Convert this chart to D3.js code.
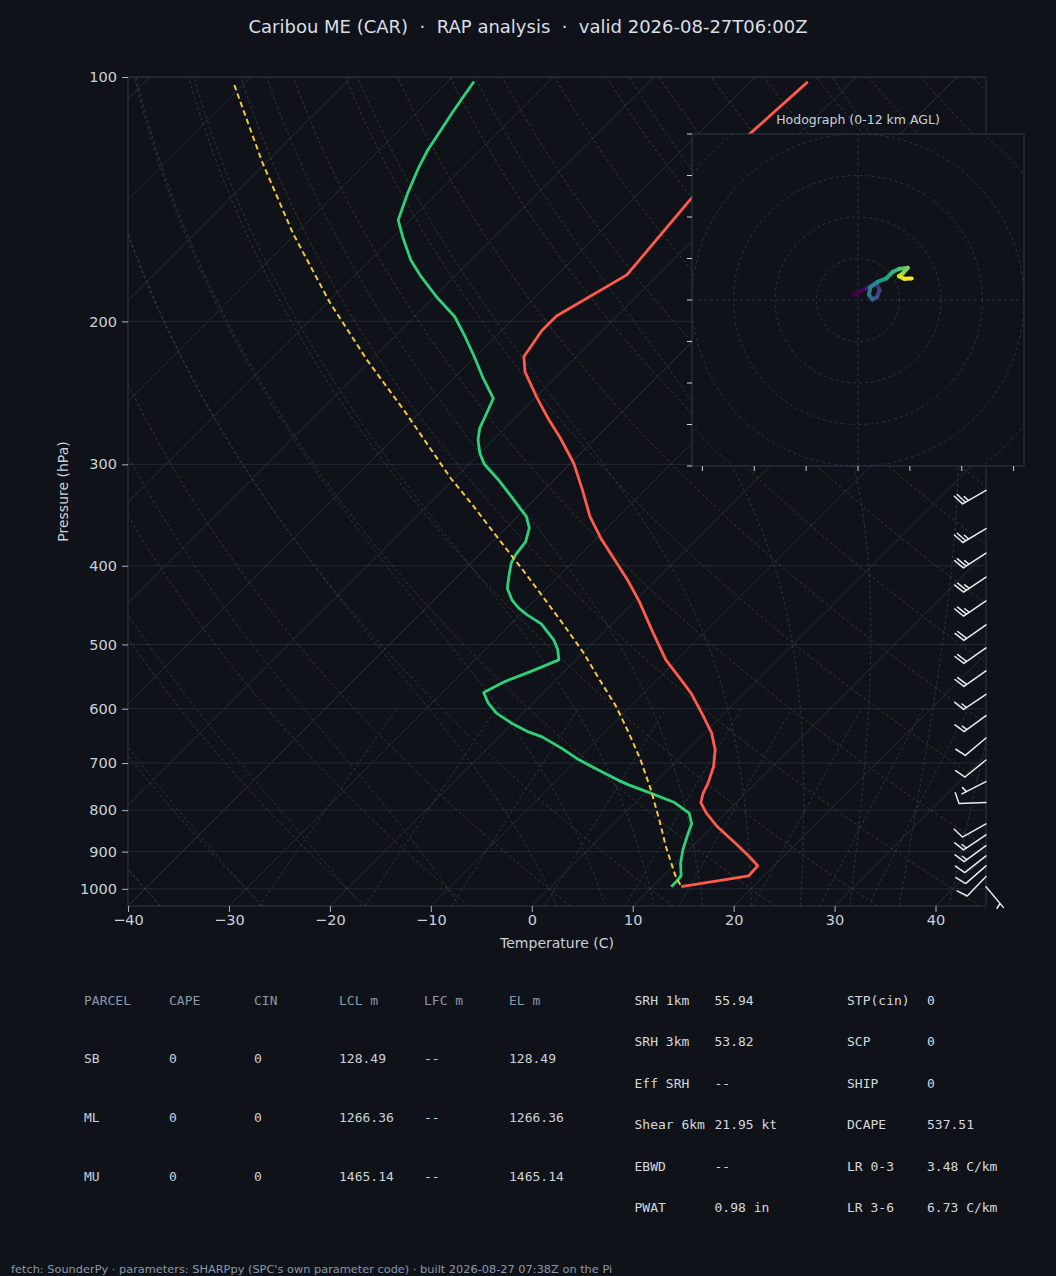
<!DOCTYPE html>
<html>
<head>
<meta charset="utf-8">
<script src="https://cdn.jsdelivr.net/npm/d3@7"></script>
<style>
  html, body { margin: 0; padding: 0; background: #0f1319; }
  svg { display: block; }
  text { font-family: "DejaVu Sans", sans-serif; }
  .mono text { font-family: "DejaVu Sans Mono", monospace; }
</style>
</head>
<body>
<svg id="chart" width="1056" height="1276"></svg>
<script>
// ---- sounding values (hPa, degC) ----
var tempP = [101.4, 117.5, 141.1, 175.3, 197.0, 205.4, 221.1, 230.7, 247.6, 263.3, 278.6, 299.1, 322.6, 348.0,
             369.9, 395.3, 416.5, 442.8, 484.2, 522.4, 550.3, 574.2, 610.6, 643.1, 674.3, 707.0, 741.1, 762.4,
             783.0, 806.9, 838.1, 874.5, 908.1, 936.9, 963.7, 994];
var tempC = [-54.3, -54.9, -54.3, -53.1, -56.0, -56.0, -55.2, -53.6, -50.0, -46.7, -43.5, -39.7, -36.2, -32.8,
             -29.6, -25.8, -22.8, -19.5, -15.0, -11.1, -7.9, -5.3, -2.0, 0.7, 2.7, 4.2, 5.3, 5.8,
             6.5, 8.1, 10.5, 13.6, 16.3, 18.4, 18.5, 12.9];

var dewP = [101.3, 110.3, 117.9, 123.0, 129.0, 139.1, 150.0, 157.3, 168.0, 176.2, 186.5, 197.4, 208.9, 221.1,
            235.0, 248.8, 262.1, 270.7, 279.9, 290.7, 299.7, 313.6, 331.9, 348.0, 359.3, 373.5, 387.8, 397.1,
            412.5, 426.4, 440.6, 451.1, 459.8, 471.7, 493.5, 507.7, 522.4, 541.6, 555.6, 573.2, 590.7, 607.7,
            625.2, 640.2, 649.4, 671.0, 693.7, 710.2, 734.2, 744.7, 762.4, 783.0, 806.9, 831.7, 862.2, 895.3,
            929.8, 963.7, 979.5, 994];
var dewC = [-87.4, -86.5, -85.7, -85.2, -84.4, -82.9, -81.2, -79.1, -76.0, -73.3, -69.8, -66.0, -63.0, -60.1,
            -57.1, -54.1, -53.1, -52.5, -51.5, -50.0, -48.5, -45.5, -42.0, -39.1, -37.7, -36.7, -36.4, -36.0,
            -34.9, -33.9, -32.3, -30.8, -29.3, -27.0, -24.2, -22.8, -21.7, -23.5, -24.9, -25.9, -24.4, -22.6,
            -20.1, -17.7, -15.8, -12.7, -9.8, -7.4, -4.0, -2.4, 0.6, 3.9, 6.4, 7.7, 8.5, 9.4,
            10.5, 11.8, 11.9, 11.9];

var parcelP = [102.3, 127.3, 155.8, 189.2, 223.2, 257.2, 312.1, 335.0, 375.2, 410.6, 440.6, 475.3, 512.5,
               555.6, 596.3, 643.1, 693.7, 755.3, 822.4, 887.1, 961.0, 994];
var parcelC = [-110.8, -100.4, -90.3, -79.9, -70.4, -61.8, -50.4, -45.9, -38.9, -33.3, -29.0, -24.4, -19.9,
               -15.4, -11.4, -7.5, -3.7, 0.3, 4.1, 7.4, 11.1, 12.9];

// wind barbs: pressure, direction (deg from), speed (kt)
var barbP = [323, 360, 386, 413, 442, 473, 505, 539, 576, 612, 652, 694, 738, 783, 832, 858, 885, 911, 937, 966, 994];
var barbDir = [240, 239, 237, 236, 236, 235, 235, 235, 236, 234, 230, 231, 243, 268, 241, 236, 234, 232, 229, 224, 140];
var barbKt = [25, 25, 25, 25, 25, 20, 20, 20, 15, 15, 10, 10, 5, 10, 10, 15, 15, 10, 10, 10, 5];

// hodograph (kt), surface to 12 km
var hodoU = [-2.1, 4.0, 8.8, 10.4, 9.1, 6.9, 5.3, 5.9, 9.6, 13.6, 16.8, 19.9, 24.0, 21.6, 19.7, 22.4, 25.9];
var hodoV = [2.4, 5.6, 8.3, 4.8, 1.3, 0.3, 2.4, 6.1, 8.8, 10.4, 13.6, 15.0, 15.5, 12.8, 11.5, 10.2, 10.4];

var pressureTicks = [100, 200, 300, 400, 500, 600, 700, 800, 900, 1000];
var tempTicks = [-40, -30, -20, -10, 0, 10, 20, 30, 40];
var hodoXTicks = [-75, -50, -25, 0, 25, 50, 75];
var hodoYTicks = [-80, -60, -40, -20, 0, 20, 40, 60, 80];
var hodoRings = [20, 40, 60, 80, 100];

// parameter tables
var parcelHead = ["PARCEL", "CAPE", "CIN", "LCL m", "LFC m", "EL m"];
var parcelNames = ["SB", "ML", "MU"];
var parcelCape = ["0", "0", "0"];
var parcelCin = ["0", "0", "0"];
var parcelLcl = ["128.49", "1266.36", "1465.14"];
var parcelLfc = ["--", "--", "--"];
var parcelEl = ["128.49", "1266.36", "1465.14"];
var kinLabels = ["SRH 1km", "SRH 3km", "Eff SRH", "Shear 6km", "EBWD", "PWAT"];
var kinValues = ["55.94", "53.82", "--", "21.95 kt", "--", "0.98 in"];
var idxLabels = ["STP(cin)", "SCP", "SHIP", "DCAPE", "LR 0-3", "LR 3-6"];
var idxValues = ["0", "0", "0", "537.51", "3.48 C/km", "6.73 C/km"];

var bg = "#0f1319", frameCol = "#2e3947", textCol = "#c9d1d9", mutedCol = "#8b98aa";

var svg = d3.select("#chart");
svg.append("rect").attr("width", 1056).attr("height", 1276).attr("fill", bg);

var margin = {top: 77, left: 128},
    width = 858,
    height = 829;

var x = d3.scaleLinear().domain([-40, 45]).range([0, width]);
var y = d3.scaleLog().domain([1050, 100]).range([height, 0]);
// 45 degree skew, anchored on the bottom of the plot
function skewX(t, p) { return x(t) + (height - y(p)); }

var line = d3.line()
    .x(function(d) { return skewX(d[0], d[1]); })
    .y(function(d) { return y(d[1]); });

var g = svg.append("g")
    .attr("transform", "translate(" + margin.left + "," + margin.top + ")");

g.append("clipPath").attr("id", "plotclip")
  .append("rect").attr("width", width).attr("height", height);
var plot = g.append("g").attr("clip-path", "url(#plotclip)");

// pressure grid
plot.selectAll(".pgrid")
    .data(pressureTicks)
    .enter().append("line")
    .attr("x1", 0).attr("x2", width)
    .attr("y1", function(d) { return y(d); })
    .attr("y2", function(d) { return y(d); })
    .attr("stroke", "#252d38").attr("stroke-width", 0.9);

// isotherms
plot.selectAll(".iso")
    .data(d3.range(-160, 50, 10))
    .enter().append("path")
    .attr("d", function(t) { return line([[t, 1050], [t, 100]]); })
    .attr("stroke", "#29313c").attr("stroke-width", 0.9).attr("fill", "none");

var pLevels = d3.range(1050, 99, -5);

// dry adiabats
var RD = 287.04749, CPD = 1004.666, LV = 2.50084e6, EPS = 0.621957, KAPPA = RD / CPD;
plot.selectAll(".dry")
    .data(d3.range(-40, 251, 10))
    .enter().append("path")
    .attr("d", function(th) {
        return line(pLevels.map(function(p) {
            return [(th + 273.15) * Math.pow(p / 1000, KAPPA) - 273.15, p];
        }));
    })
    .attr("stroke", "#4a3f2d").attr("stroke-width", 0.8)
    .attr("stroke-dasharray", "3,2.5").attr("fill", "none");

// moist adiabats (RK4 from the 1000 hPa temperature)
function dTdp(p, T) {
    var es = 6.112 * Math.exp(17.67 * (T - 273.15) / (T - 29.65));
    var rs = EPS * es / (p - es);
    return (RD * T + LV * rs) / (p * (CPD + (LV * LV * rs * EPS) / (RD * T * T)));
}
function moistLine(t0) {
    function run(pEnd, h) {
        var T = t0 + 273.15, p = 1000, out = [];
        while ((h < 0 && p > pEnd) || (h > 0 && p < pEnd)) {
            var k1 = dTdp(p, T),
                k2 = dTdp(p + h / 2, T + h / 2 * k1),
                k3 = dTdp(p + h / 2, T + h / 2 * k2),
                k4 = dTdp(p + h, T + h * k3);
            T += h / 6 * (k1 + 2 * k2 + 2 * k3 + k4);
            p += h;
            out.push([T - 273.15, p]);
        }
        return out;
    }
    return run(1050, 5).reverse().concat([[t0, 1000]], run(100, -5));
}
plot.selectAll(".moist")
    .data(d3.range(-40, 0, 10).concat(d3.range(0, 46, 5)))
    .enter().append("path")
    .attr("d", function(t0) { return line(moistLine(t0)); })
    .attr("stroke", "#30404a").attr("stroke-width", 0.8)
    .attr("stroke-dasharray", "3,2.5").attr("fill", "none");

// mixing ratio lines
plot.selectAll(".mix")
    .data([0.0004, 0.001, 0.002, 0.004, 0.007, 0.01, 0.016, 0.024, 0.032])
    .enter().append("path")
    .attr("d", function(w) {
        return line(d3.range(1050, 599, -10).map(function(p) {
            var e = p * w / (EPS + w), l = Math.log(e / 6.112);
            return [243.5 * l / (17.67 - l), p];
        }));
    })
    .attr("stroke", "#2a404c").attr("stroke-width", 0.8)
    .attr("stroke-dasharray", "3,2.5").attr("fill", "none");

// profiles
plot.append("path")
    .datum(tempP.map(function(p, i) { return [tempC[i], p]; }))
    .attr("d", line)
    .attr("fill", "none").attr("stroke", "#ff5a4b")
    .attr("stroke-width", 2.8).attr("stroke-linejoin", "round");

plot.append("path")
    .datum(dewP.map(function(p, i) { return [dewC[i], p]; }))
    .attr("d", line)
    .attr("fill", "none").attr("stroke", "#2fd07a")
    .attr("stroke-width", 2.8).attr("stroke-linejoin", "round");

plot.append("path")
    .datum(parcelP.map(function(p, i) { return [parcelC[i], p]; }))
    .attr("d", line)
    .attr("fill", "none").attr("stroke", "#f5c542")
    .attr("stroke-width", 2).attr("stroke-dasharray", "5.5,3.5");

// frame
g.append("rect").attr("width", width).attr("height", height)
    .attr("fill", "none").attr("stroke", frameCol).attr("stroke-width", 1);

// axes
var yAxis = g.append("g")
    .call(d3.axisLeft(y).tickValues(pressureTicks).tickFormat(d3.format("d")).tickSize(6).tickPadding(5));
var xAxis = g.append("g")
    .attr("transform", "translate(0," + height + ")")
    .call(d3.axisBottom(x).tickValues(tempTicks)
        .tickFormat(function(d) { return d < 0 ? "\u2212" + Math.abs(d) : d; })
        .tickSize(6).tickPadding(3));
[xAxis, yAxis].forEach(function(a) {
    a.select(".domain").remove();
    a.selectAll(".tick line").attr("stroke", "#aab3bf");
    a.selectAll(".tick text").attr("fill", textCol)
        .style("font-family", "DejaVu Sans").style("font-size", "14.5px");
});

g.append("text")
    .attr("x", width / 2).attr("y", height + 42)
    .attr("text-anchor", "middle")
    .attr("fill", textCol).style("font-size", "14px")
    .text("Temperature (C)");

g.append("text")
    .attr("transform", "rotate(-90)")
    .attr("x", -height / 2).attr("y", -65)
    .attr("dy", "0.35em")
    .attr("text-anchor", "middle")
    .attr("fill", textCol).style("font-size", "14px")
    .text("Pressure (hPa)");

// wind barbs on the right edge
function drawBarb(sel, bx, by, dir, spd) {
    var L = 27, spacing = 0.125 * L, hgt = 0.4 * L, wid = 0.25 * L;
    var rad = dir * Math.PI / 180;
    var dx = Math.sin(rad), dy = -Math.cos(rad);   // toward where the wind comes from
    var px = -dy, py = dx;                          // barb side
    spd = Math.round(spd / 5) * 5;
    var nFlag = Math.floor(spd / 50), nFull = Math.floor((spd % 50) / 10), half = (spd % 10) >= 5;
    var path = d3.path();
    var tx = bx + dx * L, ty = by + dy * L;
    path.moveTo(bx, by); path.lineTo(tx, ty);
    var off = L;
    for (var f = 0; f < nFlag; f++) {
        var sx = bx + dx * off, sy = by + dy * off;
        path.moveTo(sx, sy);
        path.lineTo(sx + px * hgt - dx * wid / 2, sy + py * hgt - dy * wid / 2);
        path.lineTo(sx - dx * wid, sy - dy * wid);
        off -= wid + spacing;
    }
    for (var b = 0; b < nFull; b++) {
        var sx2 = bx + dx * off, sy2 = by + dy * off;
        path.moveTo(sx2, sy2);
        path.lineTo(sx2 + px * hgt + dx * wid / 2, sy2 + py * hgt + dy * wid / 2);
        off -= spacing;
    }
    if (half) {
        if (nFlag === 0 && nFull === 0) off -= 1.5 * spacing;
        var sx3 = bx + dx * off, sy3 = by + dy * off;
        path.moveTo(sx3, sy3);
        path.lineTo(sx3 + px * hgt / 2 + dx * wid / 4, sy3 + py * hgt / 2 + dy * wid / 4);
    }
    sel.append("path").attr("d", path.toString())
        .attr("fill", "none").attr("stroke", "#e6ebf0")
        .attr("stroke-width", 1.5).attr("stroke-linejoin", "round").attr("stroke-linecap", "round");
}
var barbs = g.append("g");
barbP.forEach(function(p, i) {
    drawBarb(barbs, width, y(p), barbDir[i], barbKt[i]);
});

// hodograph inset
var hx = d3.scaleLinear().domain([-80, 80]).range([692, 1024]);
var hy = d3.scaleLinear().domain([-80, 80]).range([466, 134]);
var inset = svg.append("g");
inset.append("rect")
    .attr("x", hx(-80)).attr("y", hy(80))
    .attr("width", hx(80) - hx(-80)).attr("height", hy(-80) - hy(80))
    .attr("fill", bg);
inset.append("clipPath").attr("id", "hodoclip")
  .append("rect")
    .attr("x", hx(-80)).attr("y", hy(80))
    .attr("width", hx(80) - hx(-80)).attr("height", hy(-80) - hy(80));
var hplot = inset.append("g").attr("clip-path", "url(#hodoclip)");
hplot.selectAll(".ring")
    .data(hodoRings)
    .enter().append("circle")
    .attr("cx", hx(0)).attr("cy", hy(0))
    .attr("r", function(d) { return hx(d) - hx(0); })
    .attr("fill", "none").attr("stroke", "#2c3847")
    .attr("stroke-width", 0.9).attr("stroke-dasharray", "3,3");
hplot.append("line")
    .attr("x1", hx(-80)).attr("x2", hx(80)).attr("y1", hy(0)).attr("y2", hy(0))
    .attr("stroke", "#2c3847").attr("stroke-width", 0.9).attr("stroke-dasharray", "3,3");
hplot.append("line")
    .attr("x1", hx(0)).attr("x2", hx(0)).attr("y1", hy(-80)).attr("y2", hy(80))
    .attr("stroke", "#2c3847").attr("stroke-width", 0.9).attr("stroke-dasharray", "3,3");

var nSeg = hodoU.length - 1;
d3.range(nSeg).forEach(function(i) {
    hplot.append("line")
        .attr("x1", hx(hodoU[i])).attr("y1", hy(hodoV[i]))
        .attr("x2", hx(hodoU[i + 1])).attr("y2", hy(hodoV[i + 1]))
        .attr("stroke", d3.interpolateViridis(i / (nSeg - 1)))
        .attr("stroke-width", 4).attr("stroke-linecap", "round");
});

inset.append("rect")
    .attr("x", hx(-80)).attr("y", hy(80))
    .attr("width", hx(80) - hx(-80)).attr("height", hy(-80) - hy(80))
    .attr("fill", "none").attr("stroke", frameCol).attr("stroke-width", 1);

inset.selectAll(".hyt")
    .data(hodoYTicks)
    .enter().append("line")
    .attr("x1", hx(-80) - 5).attr("x2", hx(-80))
    .attr("y1", function(d) { return hy(d); }).attr("y2", function(d) { return hy(d); })
    .attr("stroke", "#c9d1d9").attr("stroke-width", 1);
inset.selectAll(".hxt")
    .data(hodoXTicks)
    .enter().append("line")
    .attr("y1", hy(-80)).attr("y2", hy(-80) + 5)
    .attr("x1", function(d) { return hx(d); }).attr("x2", function(d) { return hx(d); })
    .attr("stroke", "#c9d1d9").attr("stroke-width", 1);

inset.append("text")
    .attr("x", hx(0)).attr("y", hy(80) - 14)
    .attr("dy", "0.35em")
    .attr("text-anchor", "middle")
    .attr("fill", textCol).style("font-size", "12.5px")
    .text("Hodograph (0-12 km AGL)");

// title
svg.append("text")
    .attr("x", 528).attr("y", 27).attr("dy", "0.35em")
    .attr("text-anchor", "middle")
    .attr("fill", "#d9dee6").style("font-size", "18px")
    .text("Caribou ME (CAR)\u00a0 \u00b7\u00a0 RAP analysis\u00a0 \u00b7\u00a0 valid 2026-08-27T06:00Z");

// parcel table
var colX = [84, 169, 254, 339, 424, 509];
var rowY = [1000, 1058.5, 1117.5, 1176.5];
var table = svg.append("g").attr("class", "mono");
parcelHead.forEach(function(h, j) {
    table.append("text").attr("x", colX[j]).attr("y", rowY[0]).attr("dy", "0.35em")
        .attr("fill", mutedCol).style("font-size", "13px").text(h);
});
parcelNames.forEach(function(name, i) {
    [name, parcelCape[i], parcelCin[i], parcelLcl[i], parcelLfc[i], parcelEl[i]].forEach(function(v, j) {
        table.append("text").attr("x", colX[j]).attr("y", rowY[i + 1]).attr("dy", "0.35em")
            .attr("fill", textCol).style("font-size", "13px").text(v);
    });
});

// kinematic / composite table
var kRowY = [1000, 1041.5, 1083, 1124.5, 1166, 1207.5];
var cols = [[kinLabels, 634.5], [kinValues, 714.5], [idxLabels, 847], [idxValues, 927]];
cols.forEach(function(c) {
    c[0].forEach(function(v, i) {
        table.append("text").attr("x", c[1]).attr("y", kRowY[i]).attr("dy", "0.35em")
            .attr("fill", "#d3d8de").style("font-size", "13px").text(v);
    });
});

// footer
svg.append("text")
    .attr("x", 11).attr("y", 1269).attr("dy", "0.35em")
    .attr("fill", mutedCol).style("font-size", "11.35px")
    .text("fetch: SounderPy \u00b7 parameters: SHARPpy (SPC's own parameter code) \u00b7 built 2026-08-27 07:38Z on the Pi");
</script>
</body>
</html>
